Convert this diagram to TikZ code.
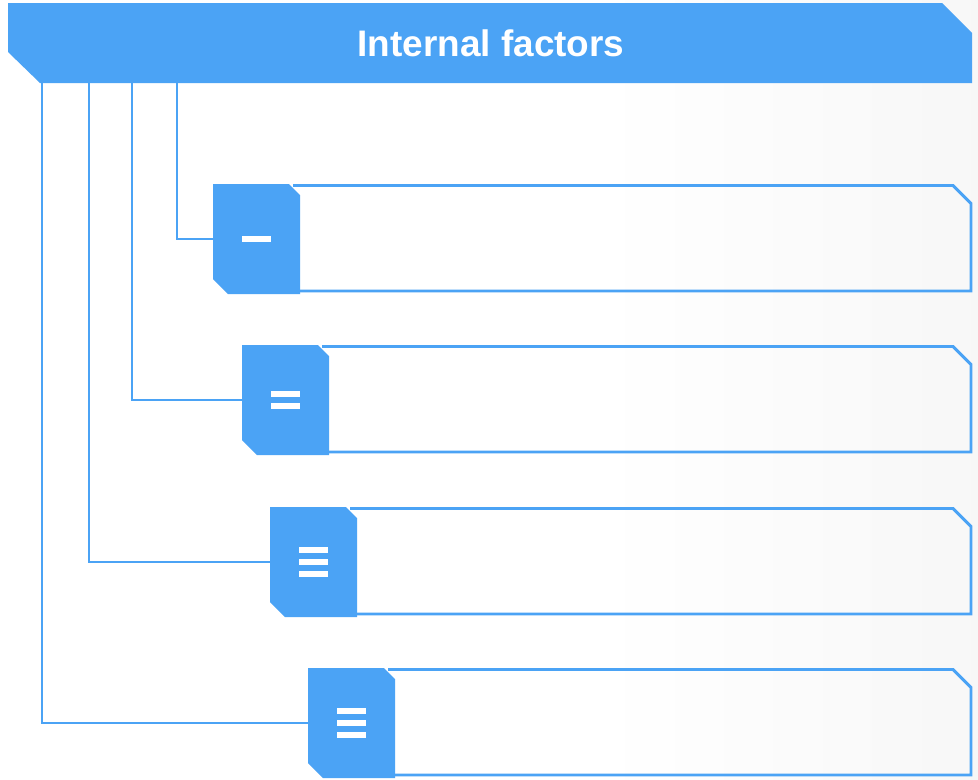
\documentclass[tikz,border=0pt]{standalone}
\usepackage{fontspec}
\setmainfont{Liberation Sans}
\usetikzlibrary{calc}
\definecolor{brand}{HTML}{4BA3F5}

\tikzset{
  anchorbox/.style={draw=none, inner sep=0pt, outer sep=0pt},
  titletext/.style={text=white, font=\fontsize{27.7}{33}\selectfont\bfseries, inner sep=0pt},
  link/.style={draw=brand, line width=1.7pt},
  cardline/.style={draw=brand, line width=2.2pt, line join=miter},
}

\begin{document}
\begin{tikzpicture}[x=0.75pt, y=-0.75pt]
  \useasboundingbox (0,0) rectangle (978,779);
  % page background with a faint grey toward the right
  \fill[white] (0,0) rectangle (978,779);
  \shade[left color=white, right color=black!3] (600,0) rectangle (978,779);

  % text cards (the icon covers their left end)
  \foreach \n/\L/\T in {1/213/184, 2/242/345, 3/270/507, 4/308/668} {
    \draw[cardline] ({\L+80},{\T+1.5}) -- (953,{\T+1.5}) -- (971,{\T+19.5})
      -- (971,{\T+107}) -- ({\L+80},{\T+107});
  }

  % header anchor
  \node[anchorbox, minimum width=723pt, minimum height=60pt] (hdr) at (490,43) {};

  % connector start points on the header bottom edge
  \coordinate (r1) at (177,83);
  \coordinate (r2) at (132,83);
  \coordinate (r3) at (89,83);
  \coordinate (r4) at (42,83);

  % icon anchors
  \foreach \n/\L/\T in {1/213/184, 2/242/345, 3/270/507, 4/308/668} {
    \node[anchorbox, minimum width=65.25pt, minimum height=82.5pt]
      (i\n) at ({\L+43.5},{\T+55}) {};
  }

  % connectors from header to icons
  \foreach \n in {1,2,3,4} {
    \draw[link] (r\n) |- (i\n.west);
  }

  % header band
  \fill[brand] (hdr.north west) -- ($(hdr.north east)+(-30,0)$)
    -- ($(hdr.north east)+(0,30)$) -- (hdr.south east)
    -- ($(hdr.south west)+(32,0)$) -- ($(hdr.south west)+(0,-31)$) -- cycle;
  \node[titletext] (title) at (491,43) {Internal factors};

  % icons with their bar glyphs
  \foreach \n/\offs in {1/{0}, 2/{-5.75,5.75}, 3/{-12,0,12}, 4/{-12,0,12}} {
    \fill[brand] (i\n.north west) -- ($(i\n.north east)+(-11,0)$)
      -- ($(i\n.north east)+(0,11)$) -- (i\n.south east)
      -- ($(i\n.south west)+(15,0)$) -- ($(i\n.south west)+(0,-15)$) -- cycle;
    \foreach \d in \offs {
      \fill[white] ($(i\n.center)+(-14.5,{\d-3})$) rectangle +(29,6);
    }
  }
\end{tikzpicture}
\end{document}
